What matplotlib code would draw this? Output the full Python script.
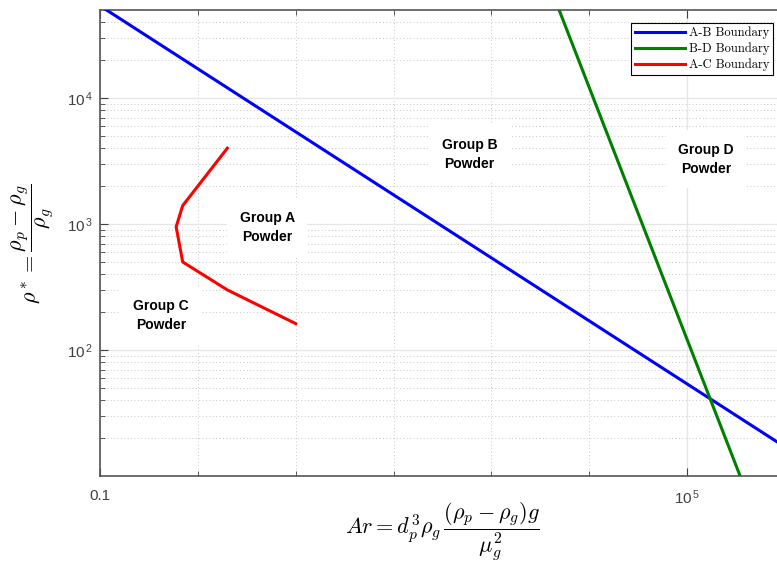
import matplotlib
matplotlib.use("Agg")
import matplotlib.pyplot as plt
from matplotlib.ticker import FixedLocator, FixedFormatter, NullFormatter
import numpy as np

plt.rcParams['font.family'] = ['Liberation Sans', 'DejaVu Sans']
plt.rcParams['mathtext.fontset'] = 'cm'

# ---------------- data ----------------
ab_Ar = [0.1, 1e6]
ab_rho = [5.4e4, 17.0]

bd_Ar = [1e3, 1e6]
bd_rho = [1.21e6, 1.21]

ac_Ar = [2.0, 0.7, 0.6, 0.7, 2.0, 10.0]
ac_rho = [4000, 1400, 950, 500, 300, 162]

series_labels = ["A-B Boundary", "B-D Boundary", "A-C Boundary"]
series_colors = ["#0000ff", "#008000", "#ff0000"]

group_labels = ["Group A\nPowder", "Group B\nPowder", "Group C\nPowder", "Group D\nPowder"]
group_Ar = [5.1, 600, 0.42, 1.56e5]
group_rho = [940, 3570, 187, 3260]

x_major = [0.1, 1e5]
x_major_labels = ["0.1", r"$\mathregular{10^{\,5}}$"]
x_minor = [1, 10, 100, 1e3, 1e4, 1e6]
y_major = [1e2, 1e3, 1e4]
y_major_labels = [r"$\mathregular{10^{\,2}}$", r"$\mathregular{10^{\,3}}$", r"$\mathregular{10^{\,4}}$"]

# ---------------- figure ----------------
W, H = 777, 564
fig = plt.figure(figsize=(W / 100, H / 100), dpi=100)
ax = fig.add_axes([100 / W, (H - 476) / H, 685 / W, 466 / H])
ax.set_xscale('log')
ax.set_yscale('log')
ax.set_xlim(0.1, 1e6)
ax.set_ylim(10, 5e4)

lw = 2.2
ax.plot(ab_Ar, ab_rho, color=series_colors[0], lw=lw, label=series_labels[0], zorder=3)
ax.plot(bd_Ar, bd_rho, color=series_colors[1], lw=lw, label=series_labels[1], zorder=3)
ax.plot(ac_Ar, ac_rho, color=series_colors[2], lw=lw, label=series_labels[2], zorder=3)

for lab, gx, gy in zip(group_labels, group_Ar, group_rho):
    ax.text(gx, gy, lab, ha='center', va='center', fontsize=10, fontweight='bold',
            linespacing=1.45, color='black', zorder=4,
            bbox=dict(facecolor='white', edgecolor='none', pad=9))

# ticks
ax.xaxis.set_major_locator(FixedLocator(x_major))
ax.xaxis.set_major_formatter(FixedFormatter(x_major_labels))
ax.xaxis.set_minor_locator(FixedLocator(x_minor))
ax.xaxis.set_minor_formatter(NullFormatter())

y_minor = [m * 10 ** k for k in range(1, 5) for m in range(2, 10) if m * 10 ** k < 5e4]
ax.yaxis.set_major_locator(FixedLocator(y_major))
ax.yaxis.set_major_formatter(FixedFormatter(y_major_labels))
ax.yaxis.set_minor_locator(FixedLocator(y_minor))
ax.yaxis.set_minor_formatter(NullFormatter())

ax.tick_params(which='both', direction='in', top=True, right=True, colors='#404040',
               labelsize=11, labelcolor='#404040')
ax.tick_params(which='major', length=6, width=0.8)
ax.tick_params(which='minor', length=3.5, width=0.6)
ax.tick_params(axis='x', pad=9)
ax.tick_params(axis='y', pad=5)

ax.grid(which='major', color='#e6e6e6', lw=0.9, ls='-', zorder=0)
ax.grid(which='minor', color='#c8c8c8', lw=0.7, ls=(0, (1, 2.5)), zorder=0)
ax.set_axisbelow(True)
for s in ax.spines.values():
    s.set_color('#555555')
    s.set_linewidth(1.2)

# legend
leg = ax.legend(loc='upper right', bbox_to_anchor=(773 / W, 1 - 22.7 / H),
                bbox_transform=fig.transFigure, prop={'family': 'cmr10', 'size': 9},
                frameon=True, fancybox=False, edgecolor='black', framealpha=1,
                handlelength=4.0, handletextpad=0.3, labelspacing=0.28,
                borderpad=0.3, borderaxespad=0)
leg.get_frame().set_linewidth(0.8)

# axis labels (LaTeX style)
fig.text(442 / W, 1 - 532 / H,
         r'$Ar = d_p^3\rho_g\,\dfrac{(\rho_p-\rho_g)g}{\mu_g^2}$',
         ha='center', va='center', fontsize=16)
fig.text(33 / W, 1 - 244 / H,
         r'$\rho^* = \dfrac{\rho_p-\rho_g}{\rho_g}$',
         ha='center', va='center', rotation=90, fontsize=16)

fig.savefig('out.png', dpi=100)
